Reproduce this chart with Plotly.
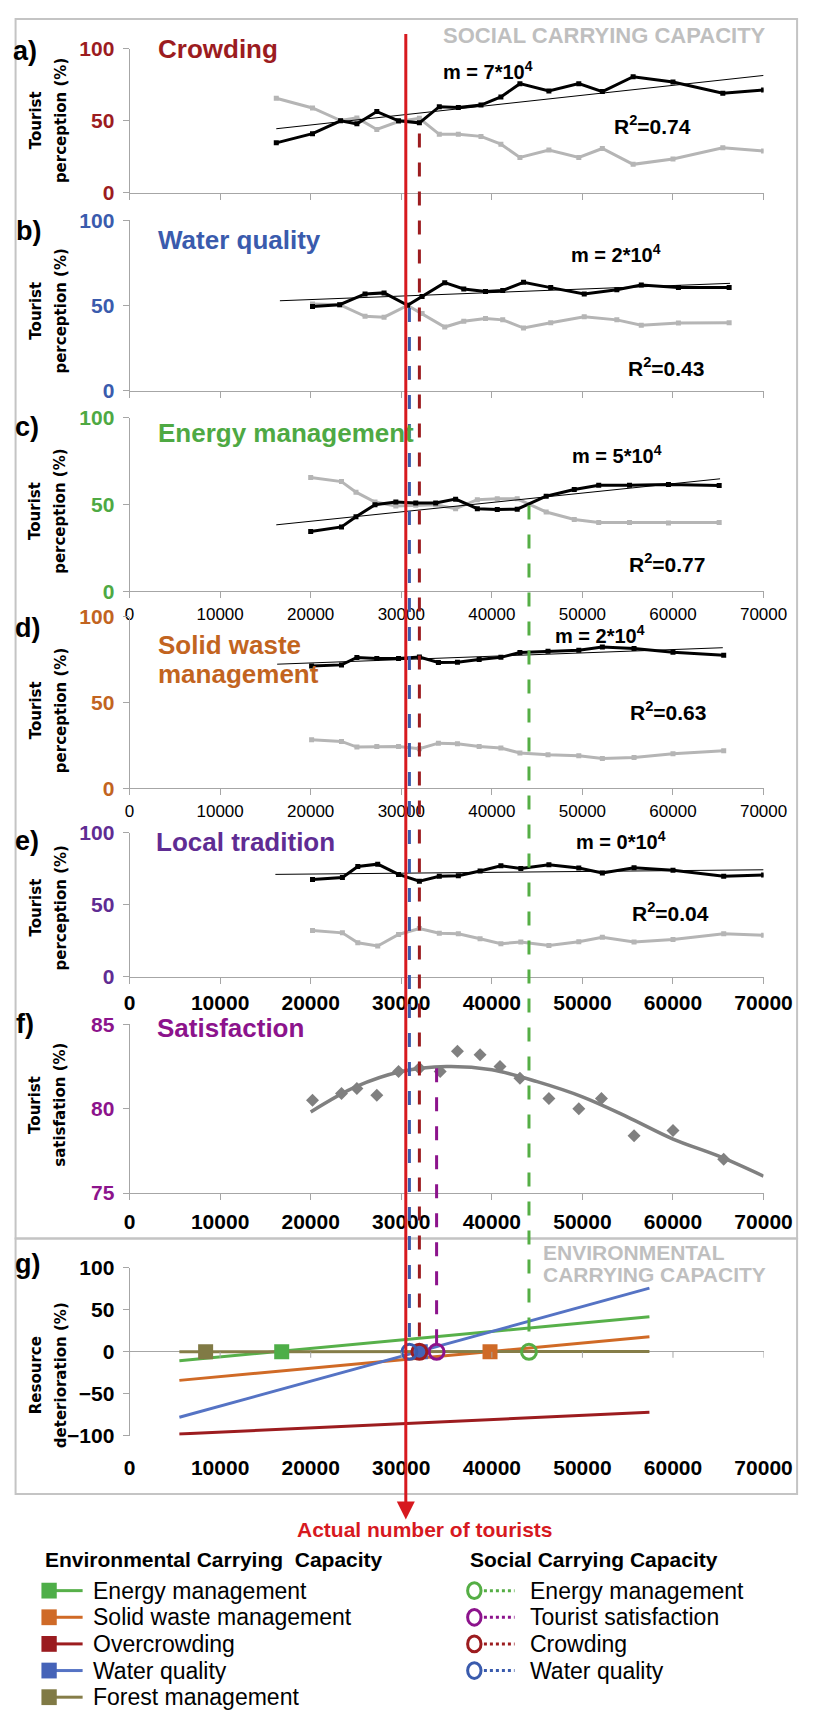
import plotly.graph_objects as go

W, H = 828, 1722
FONT = "Liberation Sans, Arial, Helvetica, sans-serif"
VFONT = "DejaVu Sans, Verdana, sans-serif"

# ---------------- data ----------------
X_TICKS = [0, 10000, 20000, 30000, 40000, 50000, 60000, 70000]

# a) Crowding
crowd_x = [16200, 20200, 23300, 25100, 27300, 29700, 32000, 34200, 36300, 38800,
           41000, 43100, 46300, 49600, 52200, 55600, 60000, 65500, 70000]
crowd_black = [34.5, 40.9, 49.8, 47.7, 56.2, 49.8, 48.4, 59.6, 59.1, 60.7,
               66.4, 75.6, 70.5, 75.6, 70.1, 80.4, 76.7, 69.0, 71.2]
crowd_gray = [65.5, 58.7, 50.0, 51.8, 43.8, 49.3, 51.6, 40.4, 40.4, 39.0,
              33.6, 24.4, 29.5, 24.4, 30.6, 19.6, 23.3, 31.1, 28.8]
crowd_trend_x = [16200, 70000]
crowd_trend_y = [44.3, 81.3]

# b) Water quality
water_x = [20200, 23200, 26000, 28100, 30700, 32300, 34800, 36900, 39300, 41200,
           43500, 46500, 50200, 53800, 56500, 60600, 66200]
water_black = [49.5, 50.5, 56.8, 57.4, 50.1, 55.3, 63.4, 59.7, 58.2, 58.8,
               63.6, 60.5, 56.8, 59.2, 62.0, 60.5, 60.5]
water_gray = [50.9, 50.5, 43.7, 43.2, 50.1, 45.3, 37.4, 40.8, 42.4, 41.6,
              36.8, 39.9, 43.4, 41.6, 38.5, 39.7, 39.9]
water_trend_x = [16600, 66300]
water_trend_y = [52.8, 63.0]

# c) Energy management
energy_x = [20000, 23400, 25000, 27100, 29400, 31600, 33800, 36000, 38400, 40600,
            42800, 46000, 49100, 51800, 55200, 59500, 65100]
energy_black = [34.3, 37.0, 42.8, 49.8, 51.3, 50.8, 50.8, 53.0, 47.5, 47.0,
                47.2, 54.7, 58.5, 61.0, 61.0, 61.4, 60.8]
energy_gray = [65.5, 63.1, 57.0, 51.3, 49.1, 49.5, 49.8, 47.5, 52.7, 53.2,
               53.2, 45.6, 41.3, 39.6, 39.6, 39.3, 39.6]
energy_trend_x = [16200, 65200]
energy_trend_y = [38.2, 64.7]

# d) Solid waste management
waste_x = [20100, 23400, 25100, 27300, 29700, 32000, 34100, 36200, 38600, 41000,
           43100, 46200, 49600, 52200, 55700, 60000, 65600]
waste_black = [71.4, 72.0, 76.3, 75.7, 75.7, 76.6, 73.4, 73.6, 75.1, 76.4,
               79.2, 79.9, 80.5, 82.4, 81.5, 79.3, 77.6]
waste_gray = [28.4, 27.4, 24.1, 24.5, 24.5, 23.2, 26.4, 26.1, 24.5, 23.6,
              20.7, 19.7, 19.1, 17.4, 18.1, 20.3, 22.0]
waste_trend_x = [16300, 65500]
waste_trend_y = [72.4, 82.0]

# e) Local tradition
trad_x = [20200, 23500, 25200, 27400, 29700, 32000, 34200, 36300, 38700, 41000,
          43200, 46300, 49600, 52200, 55700, 60000, 65600, 70000]
trad_black = [67.6, 69.0, 76.7, 78.3, 71.2, 66.4, 69.9, 70.3, 73.5, 77.2,
              75.3, 77.9, 75.6, 72.1, 75.8, 74.0, 69.9, 70.8]
trad_gray = [32.2, 30.6, 23.7, 21.5, 29.5, 33.6, 30.4, 29.9, 26.5, 23.1,
             24.2, 21.9, 24.4, 27.6, 24.2, 26.0, 29.9, 29.0]
trad_trend_x = [16100, 70000]
trad_trend_y = [71.2, 74.4]

# f) Satisfaction
sat_x = [20200, 23400, 25100, 27300, 29700, 32000, 34300, 36200, 38700, 40900,
         43100, 46300, 49600, 52100, 55700, 60000, 65600]
sat_y = [80.5, 80.9, 81.2, 80.8, 82.2, 82.4, 82.2, 83.4, 83.2, 82.5,
         81.8, 80.6, 80.0, 80.6, 78.4, 78.7, 77.0]
sat_fit_x = [20000, 25000, 30000, 35000, 40000, 45000, 50000, 55000, 60000, 65000, 70000]
sat_fit_y = [79.8, 81.3, 82.2, 82.5, 82.3, 81.6, 80.7, 79.5, 78.2, 77.2, 76.0]

# g) Resource deterioration (environmental carrying capacity)
deter_x = [5500, 57400]
deter_names = ["Energy management", "Solid waste management", "Overcrowding",
               "Water quality", "Forest management"]
deter_y = {
    "Energy management": [-10.6, 42.0],
    "Solid waste management": [-34.0, 18.0],
    "Overcrowding": [-98.0, -72.0],
    "Water quality": [-78.0, 76.0],
    "Forest management": [0.0, 0.5],
}
env_cap_names = ["Forest management", "Energy management", "Water quality", "Solid waste management"]
env_cap_x = [8400, 16800, 32100, 39800]

soc_names = ["Energy management", "Tourist satisfaction", "Crowding", "Water quality"]
soc_cap_x = [44100, 33900, 32000, 30900]
actual_tourists = 30500

# ---------------- styles ----------------
C_CROWD = "#9C1C1F"
C_WATER = "#3A5BAD"
C_ENERGY = "#4EA943"
C_WASTE = "#C2641F"
C_TRAD = "#5F2C93"
C_SAT = "#8C138C"
C_RED = "#D7191F"
AXIS = "#A6A6A6"
GRAY = "#B5B5B5"
LINE_COL = {
    "Energy management": "#57B04A",
    "Solid waste management": "#D06A26",
    "Overcrowding": "#9C1C1F",
    "Water quality": "#5573C4",
    "Forest management": "#857D48",
}
LEG_COL = {
    "Energy management": "#4EAE48",
    "Solid waste management": "#CF6A27",
    "Overcrowding": "#9A1B1F",
    "Water quality": "#4563B8",
    "Forest management": "#807A45",
}
SOC_COL = {
    "Energy management": "#55AE45",
    "Tourist satisfaction": "#8C138C",
    "Crowding": "#9C1C1F",
    "Water quality": "#3A5BAD",
}


def pxx(p):
    return p / W


def pyy(p):
    return 1 - p / H


X_DOM = [pxx(129), pxx(791)]

# panel layout: (top px, bottom px, y range, y ticks, tick colour, x-label style)
panels = [
    dict(top=37, bottom=183, rng=[0, 100], ticks=[0, 50, 100], col=C_CROWD, xlab=None),
    dict(top=211, bottom=384, rng=[0, 100], ticks=[0, 50, 100], col=C_WATER, xlab=None),
    dict(top=411, bottom=587, rng=[0, 100], ticks=[0, 50, 100], col=C_ENERGY, xlab="plain"),
    dict(top=613, bottom=787, rng=[0, 100], ticks=[0, 50, 100], col=C_WASTE, xlab="plain"),
    dict(top=832, bottom=978, rng=[0, 100], ticks=[0, 50, 100], col=C_TRAD, xlab="bold"),
    dict(top=1026, bottom=1197, rng=[75, 85], ticks=[75, 80, 85], col=C_SAT, xlab="bold"),
    dict(top=1273, bottom=1443, rng=[-100, 100], ticks=[-100, -50, 0, 50, 100], col="#000000", xlab="bold"),
]
XLAB_STANDOFF = [0, 0, 1, 1, 1, 4, 17]


def vpix(i, v):
    p = panels[i]
    lo, hi = p["rng"]
    return p["bottom"] - (v - lo) / (hi - lo) * (p["bottom"] - p["top"])


def axn(i):
    return ("x" if i == 0 else f"x{i+1}"), ("y" if i == 0 else f"y{i+1}")


fig = go.Figure()

perception = [
    (crowd_x, crowd_black, crowd_gray, crowd_trend_x, crowd_trend_y),
    (water_x, water_black, water_gray, water_trend_x, water_trend_y),
    (energy_x, energy_black, energy_gray, energy_trend_x, energy_trend_y),
    (waste_x, waste_black, waste_gray, waste_trend_x, waste_trend_y),
    (trad_x, trad_black, trad_gray, trad_trend_x, trad_trend_y),
]
for i, (xs, yb, yg, tx, ty) in enumerate(perception):
    xa, ya = axn(i)
    fig.add_trace(go.Scatter(x=xs, y=yg, mode="lines+markers", xaxis=xa, yaxis=ya,
                             line=dict(color=GRAY, width=3),
                             marker=dict(symbol="square", size=5, color=GRAY)))
    fig.add_trace(go.Scatter(x=xs, y=yb, mode="lines+markers", xaxis=xa, yaxis=ya,
                             line=dict(color="#000000", width=3),
                             marker=dict(symbol="square", size=5, color="#000000")))
    fig.add_trace(go.Scatter(x=tx, y=ty, mode="lines", xaxis=xa, yaxis=ya,
                             line=dict(color="#000000", width=1)))

# f) satisfaction
xa, ya = axn(5)
fig.add_trace(go.Scatter(x=sat_fit_x, y=sat_fit_y, mode="lines", xaxis=xa, yaxis=ya,
                         line=dict(color="#808080", width=3.5, shape="spline")))
fig.add_trace(go.Scatter(x=sat_x, y=sat_y, mode="markers", xaxis=xa, yaxis=ya,
                         marker=dict(symbol="diamond", size=10, color="#808080")))

# g) deterioration
xa, ya = axn(6)
for name in deter_names:
    fig.add_trace(go.Scatter(x=deter_x, y=deter_y[name], mode="lines", xaxis=xa, yaxis=ya,
                             line=dict(color=LINE_COL[name], width=3)))
fig.add_trace(go.Scatter(x=env_cap_x, y=[0] * len(env_cap_x), mode="markers", xaxis=xa, yaxis=ya,
                         marker=dict(symbol="square", size=15,
                                     color=[LEG_COL[n] for n in env_cap_names])))
fig.add_trace(go.Scatter(x=soc_cap_x, y=[0] * len(soc_cap_x), mode="markers", xaxis=xa, yaxis=ya,
                         marker=dict(symbol="circle-open", size=15,
                                     color=[SOC_COL[n] for n in soc_names],
                                     line=dict(width=3))))

layout = dict(width=W, height=H, margin=dict(l=0, r=0, t=0, b=0),
              paper_bgcolor="white", plot_bgcolor="rgba(0,0,0,0)", showlegend=False,
              font=dict(family=FONT, color="#000000"))

for i, p in enumerate(panels):
    xa, ya = axn(i)
    xk = "xaxis" if i == 0 else f"xaxis{i+1}"
    yk = "yaxis" if i == 0 else f"yaxis{i+1}"
    xd = dict(domain=X_DOM, range=[0, 70000], anchor=ya, tickvals=X_TICKS,
              ticktext=[str(v) for v in X_TICKS], showgrid=False, zeroline=False,
              showline=(i != 6), linecolor=AXIS, linewidth=1,
              ticks="outside" if i != 6 else "", ticklen=6, tickcolor=AXIS,
              showticklabels=p["xlab"] is not None, ticklabelstandoff=XLAB_STANDOFF[i])
    if p["xlab"] == "plain":
        xd["tickfont"] = dict(family=FONT, size=17, color="#000000")
    elif p["xlab"] == "bold":
        xd["tickfont"] = dict(family=FONT, size=21, color="#000000", weight="bold")
    layout[xk] = xd
    layout[yk] = dict(domain=[pyy(p["bottom"]), pyy(p["top"])], range=p["rng"], anchor=xa,
                      tickvals=p["ticks"], showgrid=False, zeroline=(i == 6),
                      zerolinecolor=AXIS, zerolinewidth=1,
                      showline=True, linecolor=AXIS, linewidth=1, ticks="outside",
                      ticklen=6, tickcolor=AXIS, ticklabelstandoff=4,
                      tickfont=dict(family=FONT, size=21, color=p["col"], weight="bold"))

shapes = []
# outer boxes
shapes.append(dict(type="rect", xref="paper", yref="paper", x0=pxx(10), x1=pxx(826),
                   y0=pyy(1243), y1=pyy(7), line=dict(color="#C4C4C4", width=2), layer="below"))
shapes.append(dict(type="rect", xref="paper", yref="paper", x0=pxx(10), x1=pxx(826),
                   y0=pyy(1502), y1=pyy(1243), line=dict(color="#C4C4C4", width=2), layer="below"))
# tick marks on the zero line of panel g
for t in X_TICKS:
    shapes.append(dict(type="line", xref="x7", yref="paper", x0=t, x1=t,
                       y0=pyy(vpix(6, 0)), y1=pyy(vpix(6, 0) + 6),
                       line=dict(color=AXIS, width=1)))

# dashed social-capacity lines
dash_specs = [
    ("Energy management", 2, 49.4),
    ("Tourist satisfaction", 5, 82.4),
    ("Crowding", 0, 41.0),
    ("Water quality", 1, 48.6),
]
for (name, pi, v), xv in zip(dash_specs, soc_cap_x):
    shapes.append(dict(type="line", xref="x", yref="paper", x0=xv, x1=xv,
                       y0=pyy(vpix(pi, v)), y1=pyy(vpix(6, 0) - 6),
                       line=dict(color=SOC_COL[name], width=3, dash="14px,15px")))

# legend graphics
env_rows = [1600, 1627, 1654, 1681, 1708]
soc_rows = [1600, 1627, 1654, 1681]
leg_env_order = ["Energy management", "Solid waste management", "Overcrowding",
                 "Water quality", "Forest management"]
for name, r in zip(leg_env_order, env_rows):
    shapes.append(dict(type="line", xref="paper", yref="paper", x0=pxx(50), x1=pxx(80),
                       y0=pyy(r), y1=pyy(r), line=dict(color=LINE_COL[name], width=3)))
    shapes.append(dict(type="rect", xref="paper", yref="paper", x0=pxx(37), x1=pxx(53),
                       y0=pyy(r + 8), y1=pyy(r - 8), fillcolor=LEG_COL[name],
                       line=dict(width=0)))
for name, r in zip(soc_names, soc_rows):
    shapes.append(dict(type="line", xref="paper", yref="paper", x0=pxx(499), x1=pxx(531),
                       y0=pyy(r), y1=pyy(r), line=dict(color=SOC_COL[name], width=3, dash="dot")))
    shapes.append(dict(type="circle", xref="paper", yref="paper", x0=pxx(482), x1=pxx(496),
                       y0=pyy(r + 8), y1=pyy(r - 8), line=dict(color=SOC_COL[name], width=3)))

layout["shapes"] = shapes

ann = []


def text(t, x, y, size, color="#000000", xanchor="left", family=FONT, angle=0, yanchor="middle"):
    ann.append(dict(text=t, x=pxx(x), y=pyy(y), xref="paper", yref="paper", showarrow=False,
                    xanchor=xanchor, yanchor=yanchor, align=xanchor, textangle=angle,
                    borderpad=0, font=dict(family=family, size=size, color=color)))


# panel letters
for lab, (x, y) in zip(["a)", "b)", "c)", "d)", "e)", "f)", "g)"],
                       [(20, 40), (24, 222), (22, 421), (22, 624), (22, 840), (20, 1026), (22, 1269)]):
    text(f"<b>{lab}</b>", x, y, 27, xanchor="center")

# panel titles
TS = 26
text("<b>Crowding</b>", 158, 38, TS, C_CROWD)
text("<b>Water quality</b>", 158, 231, TS, C_WATER)
text("<b>Energy management</b>", 158, 427, TS, C_ENERGY)
text("<b>Solid waste</b>", 158, 642, TS, C_WASTE)
text("<b>management</b>", 158, 671, TS, C_WASTE)
text("<b>Local tradition</b>", 156, 841, TS, C_TRAD)
text("<b>Satisfaction</b>", 157, 1030, TS, C_SAT)

text("<b>SOCIAL CARRYING CAPACITY</b>", 455, 24, 22, "#BFBFBF")
text("<b>ENVIRONMENTAL</b>", 560, 1257, 21, "#BFBFBF")
text("<b>CARRYING CAPACITY</b>", 560, 1280, 21, "#BFBFBF")

# slope / R2 labels
mr = [("7", "0.74", (455, 59), (634, 115)),
      ("2", "0.43", (589, 245), (648, 360)),
      ("5", "0.77", (590, 448), (649, 558)),
      ("2", "0.63", (572, 631), (651, 708)),
      ("0", "0.04", (594, 840), (653, 912))]
for m, r2, mp, rp in mr:
    text(f"<b>m = {m}*10<sup>4</sup></b>", mp[0], mp[1], 20)
    text(f"<b>R<sup>2</sup>=" + r2 + "</b>", rp[0], rp[1], 21)

# y-axis titles
ytitles = [("Tourist", "perception (%)", 110), ("Tourist", "perception (%)", 303),
           ("Tourist", "perception (%)", 506), ("Tourist", "perception (%)", 708),
           ("Tourist", "perception (%)", 908), ("Tourist", "satisfation (%)", 1108),
           ("Resource", "deterioration (%)", 1382)]
for l1, l2, yc in ytitles:
    text(f"<b>{l1}</b>", 31, yc, 15, xanchor="center", family=VFONT, angle=-90)
    text(f"<b>{l2}</b>", 57, yc, 15, xanchor="center", family=VFONT, angle=-90)

# red arrow: actual number of tourists
ann.append(dict(text="", x=actual_tourists, y=pyy(1528), xref="x", yref="paper",
                showarrow=True, ax=0, ay=-(1528 - 41), axref="pixel", ayref="pixel",
                arrowcolor=C_RED, arrowwidth=3, arrowhead=2, arrowsize=1.2, standoff=0))
text("<b>Actual number of tourists</b>", 437, 1538, 21, C_RED, xanchor="center")

# legend text
text("<b>Environmental Carrying  Capacity</b>", 40, 1568, 21)
text("<b>Social Carrying Capacity</b>", 483, 1568, 21)
for name, r in zip(leg_env_order, env_rows):
    text(name, 90, r, 23)
for name, r in zip(soc_names, soc_rows):
    text(name, 546, r, 23)

layout["annotations"] = ann
fig.update_layout(**layout)

fig.write_html("out.html", config={"displayModeBar": False},
               post_script="document.body.style.margin='0';")
